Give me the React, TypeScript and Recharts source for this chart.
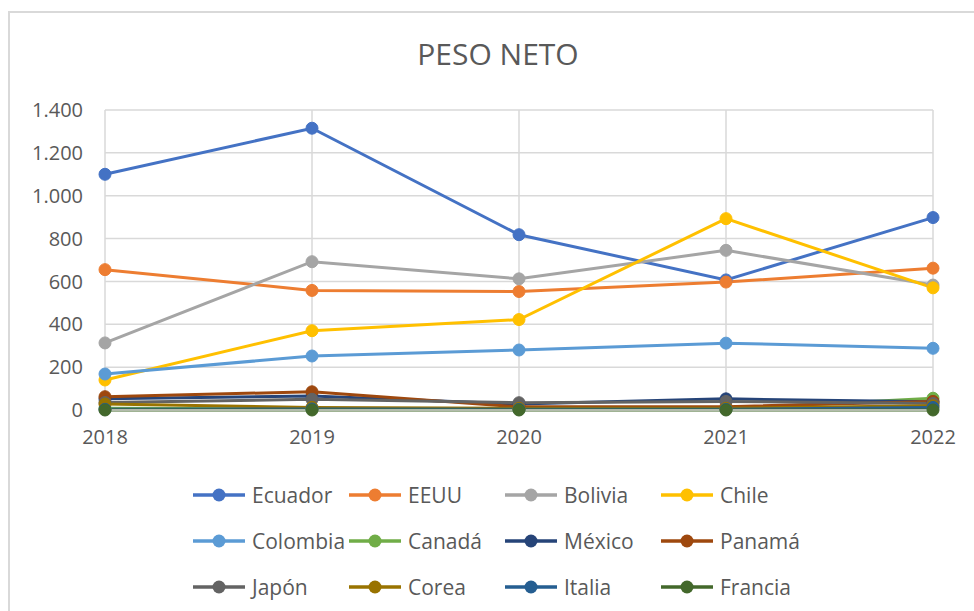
import React from "react";
import { LineChart, Line, XAxis, YAxis, CartesianGrid } from "recharts";

const years = ["2018", "2019", "2020", "2021", "2022"];
const yTicks = [0, 200, 400, 600, 800, 1000, 1200, 1400];

const ecuador = [1100, 1315, 818, 607, 898];
const eeuu = [655, 558, 553, 597, 662];
const bolivia = [313, 692, 612, 745, 583];
const chile = [140, 370, 422, 893, 570];
const colombia = [168, 252, 280, 312, 288];
const canada = [8, 5, 5, 5, 55];
const mexico = [52, 65, 28, 52, 38];
const panama = [62, 85, 15, 15, 40];
const japon = [35, 50, 34, 40, 30];
const corea = [28, 12, 8, 8, 20];
const italia = [3, 5, 3, 3, 12];
const francia = [0, 0, 0, 0, 0];

const series = [
  { name: "Ecuador", values: ecuador, color: "#4472C4" },
  { name: "EEUU", values: eeuu, color: "#ED7D31" },
  { name: "Bolivia", values: bolivia, color: "#A5A5A5" },
  { name: "Chile", values: chile, color: "#FFC000" },
  { name: "Colombia", values: colombia, color: "#5B9BD5" },
  { name: "Canadá", values: canada, color: "#70AD47" },
  { name: "México", values: mexico, color: "#264478" },
  { name: "Panamá", values: panama, color: "#9E480E" },
  { name: "Japón", values: japon, color: "#636363" },
  { name: "Corea", values: corea, color: "#997300" },
  { name: "Italia", values: italia, color: "#255E91" },
  { name: "Francia", values: francia, color: "#43682B" },
];

const data = years.map((year, i) => {
  const row: Record<string, string | number> = { year };
  series.forEach((s) => {
    row[s.name] = s.values[i];
  });
  return row;
});

const font = "'Open Sans', sans-serif";
const textColor = "#595959";

const fmt = (v: number) => v.toString().replace(/\B(?=(\d{3})+(?!\d))/g, ".");

export default function App() {
  return (
    <div style={{ position: "relative", width: 974, height: 611, background: "#fff", fontFamily: font, overflow: "hidden" }}>
      <style>{"body{margin:0}"}</style>
      {/* chart frame */}
      <div
        style={{
          position: "absolute",
          left: 8,
          top: 11,
          width: 990,
          height: 620,
          border: "2px solid #d9d9d9",
        }}
      />
      <div
        style={{
          position: "absolute",
          left: 0,
          width: 996,
          top: 34,
          textAlign: "center",
          fontSize: 30,
          color: textColor,
          lineHeight: "40px",
        }}
      >
        PESO NETO
      </div>
      <div style={{ position: "absolute", left: 0, top: 0 }}>
        <LineChart
          width={974}
          height={460}
          data={data}
          margin={{ top: 110, right: 41, left: 20, bottom: 20 }}
        >
          <CartesianGrid stroke="#d9d9d9" strokeWidth={1.5} />
          <XAxis
            dataKey="year"
            height={30}
            axisLine={{ stroke: "#d9d9d9", strokeWidth: 1.5 }}
            tickLine={false}
            tickSize={0}
            tickMargin={20}
            tick={{ fill: textColor, fontSize: 20, fontFamily: font }}
          />
          <YAxis
            domain={[0, 1400]}
            ticks={yTicks}
            width={85}
            axisLine={false}
            tickLine={false}
            tickSize={0}
            tickMargin={22}
            tickFormatter={fmt}
            tick={{ fill: textColor, fontSize: 20, fontFamily: font }}
          />
          {series.map((s) => (
            <Line
              key={s.name}
              dataKey={s.name}
              stroke={s.color}
              strokeWidth={3}
              dot={{ r: 6, fill: s.color, stroke: s.color, strokeWidth: 1 }}
              isAnimationActive={false}
            />
          ))}
        </LineChart>
      </div>
      {/* legend */}
      {series.map((s, i) => {
        const col = i % 4;
        const row = Math.floor(i / 4);
        return (
          <div
            key={s.name}
            style={{
              position: "absolute",
              left: 193 + col * 156,
              top: 495 + row * 46 - 15,
              height: 30,
              display: "flex",
              alignItems: "center",
              fontSize: 21,
              color: textColor,
              whiteSpace: "nowrap",
            }}
          >
            <svg width={52} height={16} style={{ marginRight: 7 }}>
              <line x1={0} y1={8} x2={52} y2={8} stroke={s.color} strokeWidth={3.5} />
              <circle cx={26} cy={8} r={6.5} fill={s.color} />
            </svg>
            <span>{s.name}</span>
          </div>
        );
      })}
    </div>
  );
}
